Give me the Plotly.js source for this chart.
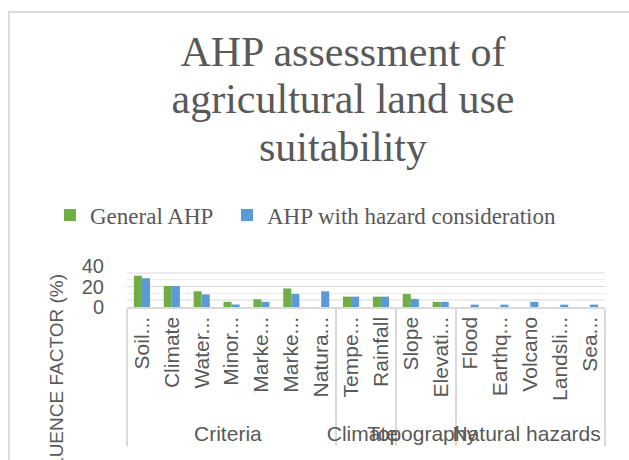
<!DOCTYPE html>
<html><head><meta charset="utf-8">
<script src="https://cdn.plot.ly/plotly-3.0.1.min.js"></script>
<style>
html,body{margin:0;padding:0;background:#fff;overflow:hidden}
#chart{width:629px;height:460px}
#frame{position:absolute;left:8px;top:11px;width:640px;height:470px;border-top:2px solid #d9d9d9;border-left:2px solid #d9d9d9;pointer-events:none}
</style></head><body>
<div id="chart"></div><div id="frame"></div>
<script>
// Data
const groups = ["Criteria","Criteria","Criteria","Criteria","Criteria","Criteria","Criteria",
                "Climate","Climate","Topography","Topography",
                "Natural hazards","Natural hazards","Natural hazards","Natural hazards","Natural hazards"];
const categories = ["Soil...","Climate","Water...","Minor...","Marke...","Marke...\u200b","Natura...",
                    "Tempe...","Rainfall","Slope","Elevati...",
                    "Flood","Earthq...","Volcano","Landsli...","Sea..."];
const generalAHP = [30.5, 20.5, 15.3, 5.0, 7.5, 18.1, 0, 10.1, 10.1, 12.7, 5.0, 0, 0, 0, 0, 0];
const hazardAHP  = [28.1, 20.5, 12.3, 2.4, 5.0, 12.7, 15.3, 10.1, 10.1, 7.9, 5.0, 2.3, 2.3, 5.0, 2.3, 2.3];
const yTicks = [0, 20, 40];

const textGray = '#595959';
const traces = [
  {type:'bar', name:'General AHP', x:[groups, categories], y:generalAHP, marker:{color:'#70AD47'}, legend:'legend'},
  {type:'bar', name:'AHP with hazard consideration', x:[groups, categories], y:hazardAHP, marker:{color:'#5B9BD5'}, legend:'legend2'}
];
const big = s => '<span style="font-size:42px">' + s + '</span>';
const legendFont = {family:'Liberation Serif', size:23, color:textGray};
const layout = {
  width:629, height:460,
  margin:{l:127, r:24, t:266, b:152.5, pad:0},
  paper_bgcolor:'#fff', plot_bgcolor:'#fff',
  barmode:'group', bargap:0.46, bargroupgap:0,
  title:{text: big('AHP assessment of') + '<br>' + big('agricultural land use') + '<br>' + big('suitability'),
         font:{family:'Liberation Serif', size:36.5, color:textGray},
         xref:'container', x:343/629, xanchor:'center', yref:'container', y:1-66/460, yanchor:'top'},
  showlegend:true,
  legend:{orientation:'h', xref:'container', x:50/629, xanchor:'left', yref:'container', y:1-215/460, yanchor:'middle', font:legendFont},
  legend2:{orientation:'h', xref:'container', x:227/629, xanchor:'left', yref:'container', y:1-215/460, yanchor:'middle', font:legendFont},
  xaxis:{type:'multicategory', tickangle:-90, ticks:'',
         tickfont:{family:'Liberation Sans', size:21, color:textGray},
         showdividers:true, dividercolor:'#d9d9d9', dividerwidth:2,
         showline:true, linecolor:'#d9d9d9', linewidth:1.5, showgrid:false, automargin:false, fixedrange:true},
  yaxis:{range:[0,40], tickvals:yTicks, ticktext:yTicks.map(String), ticks:'', ticklabelstandoff:22,
         tickfont:{family:'Liberation Sans', size:20, color:textGray},
         showgrid:true, gridcolor:'#d9d9d9', gridwidth:1.5, zeroline:false,
         minor:{tickvals:[20/3, 40/3, 80/3, 100/3], showgrid:true, gridcolor:'#ececec', gridwidth:1.5},
         automargin:false, fixedrange:true},
  annotations:[{text:'INFLUENCE FACTOR (%)', textangle:-90, showarrow:false,
                xref:'paper', x:(57-127)/478, xanchor:'center',
                yref:'paper', y:(307.5-388)/41.5, yanchor:'middle',
                font:{family:'Liberation Sans', size:19, color:textGray}}]
};
Plotly.newPlot('chart', traces, layout, {displayModeBar:false, staticPlot:true});
</script>
</body></html>
